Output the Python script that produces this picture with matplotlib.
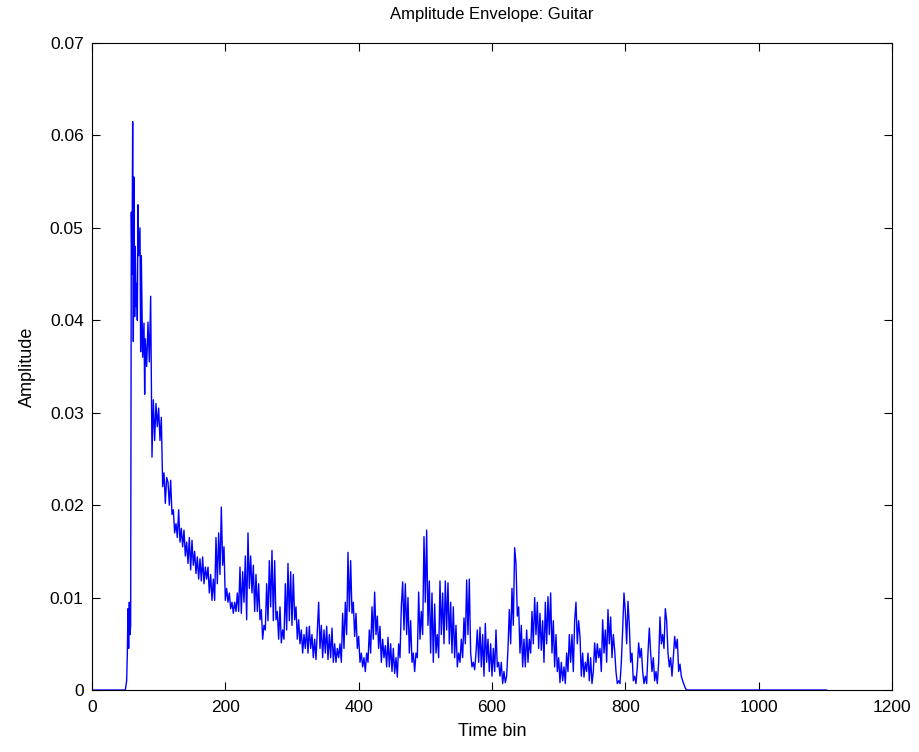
import numpy as np
import matplotlib.pyplot as plt
from matplotlib.ticker import FuncFormatter

# attack part, read point by point (bins are irregular here)
attack_bins = [0, 50, 52, 53, 54, 55, 56, 57, 58, 59, 60, 61, 62, 63, 64, 65, 66, 67, 68,
               69, 70, 72, 73, 74, 76, 78, 79, 80, 82, 84, 86, 88]
attack_amp = [0, 0, 0.001, 0.004, 0.0088, 0.0045, 0.0095, 0.006, 0.007, 0.0517, 0.045,
              0.0615, 0.0377, 0.0555, 0.0404, 0.048, 0.0415, 0.044, 0.040, 0.0525, 0.047,
              0.050, 0.0366, 0.047, 0.036, 0.0397, 0.032, 0.038, 0.035, 0.0398, 0.0355, 0.0426]

# decay part, one value every 2 bins from bin 90 to bin 892
body_start = 90
body_step = 2
body_amp = [
    0.0252, 0.0314, 0.027, 0.031, 0.0285, 0.0305, 0.027, 0.0295, 0.022, 0.0235,
    0.0202, 0.023, 0.0225, 0.020, 0.0227, 0.019, 0.0195, 0.017, 0.018, 0.0165,
    0.0195, 0.016, 0.0175, 0.0155, 0.0173, 0.0145, 0.016, 0.0137, 0.0165, 0.013,
    0.0162, 0.0135, 0.015, 0.0126, 0.0144, 0.012, 0.0142, 0.0118, 0.0144, 0.0115,
    0.0133, 0.012, 0.0133, 0.0105, 0.0125, 0.0097, 0.012, 0.0097, 0.0165, 0.0115,
    0.017, 0.0125, 0.0198, 0.0135, 0.0155, 0.0097, 0.011, 0.0095, 0.0105, 0.0088,
    0.0095, 0.0083, 0.0095, 0.0085, 0.0105, 0.0085, 0.0133, 0.0083, 0.0128, 0.0095,
    0.0145, 0.0076, 0.017, 0.011, 0.0145, 0.0105, 0.0135, 0.0085, 0.0125, 0.0085,
    0.0115, 0.0076, 0.0087, 0.0055, 0.007, 0.0065, 0.0115, 0.0075, 0.014, 0.009,
    0.0151, 0.0075, 0.014, 0.0076, 0.0085, 0.0055, 0.009, 0.0051, 0.0065, 0.0055,
    0.0115, 0.0065, 0.0137, 0.0075, 0.0128, 0.007, 0.0125, 0.0076, 0.009, 0.0055,
    0.0076, 0.005, 0.0065, 0.004, 0.006, 0.0045, 0.0068, 0.004, 0.0069, 0.0045,
    0.006, 0.0035, 0.0055, 0.0033, 0.0065, 0.0095, 0.0045, 0.007, 0.0035, 0.0065,
    0.004, 0.0069, 0.0033, 0.006, 0.0035, 0.0067, 0.003, 0.005, 0.003, 0.0045,
    0.0035, 0.005, 0.003, 0.0083, 0.0045, 0.0095, 0.006, 0.0149, 0.0085, 0.014,
    0.0083, 0.0095, 0.0058, 0.0083, 0.0045, 0.0058, 0.003, 0.004, 0.0025, 0.0035,
    0.002, 0.004, 0.003, 0.0065, 0.004, 0.009, 0.0055, 0.0106, 0.006, 0.008,
    0.0045, 0.0069, 0.003, 0.0055, 0.0035, 0.0048, 0.0025, 0.0057, 0.0025, 0.005,
    0.002, 0.0045, 0.0018, 0.0035, 0.0014, 0.005, 0.0035, 0.009, 0.0117, 0.0065,
    0.0115, 0.006, 0.01, 0.004, 0.0075, 0.003, 0.004, 0.002, 0.004, 0.0035,
    0.0106, 0.0055, 0.0085, 0.006, 0.0166, 0.0095, 0.0173, 0.007, 0.0118, 0.004,
    0.0105, 0.003, 0.0093, 0.004, 0.006, 0.0035, 0.0118, 0.006, 0.0105, 0.005,
    0.0118, 0.0065, 0.0116, 0.005, 0.0095, 0.004, 0.009, 0.0035, 0.007, 0.0025,
    0.004, 0.003, 0.0055, 0.0035, 0.0078, 0.005, 0.0119, 0.006, 0.012, 0.004,
    0.0025, 0.003, 0.0022, 0.004, 0.0065, 0.003, 0.0068, 0.0025, 0.006, 0.0015,
    0.0072, 0.003, 0.0055, 0.002, 0.005, 0.0015, 0.0045, 0.002, 0.0065, 0.0025,
    0.003, 0.0015, 0.003, 0.0007, 0.002, 0.0008, 0.0015, 0.0045, 0.0087, 0.005,
    0.011, 0.007, 0.0154, 0.0137, 0.008, 0.009, 0.004, 0.007, 0.0025, 0.0055,
    0.0025, 0.0065, 0.003, 0.0055, 0.004, 0.0085, 0.005, 0.01, 0.006, 0.0095,
    0.0045, 0.0083, 0.0043, 0.0075, 0.003, 0.0095, 0.005, 0.0101, 0.006, 0.0105,
    0.004, 0.0075, 0.0025, 0.006, 0.002, 0.0035, 0.0008, 0.003, 0.001, 0.0025,
    0.0007, 0.004, 0.002, 0.006, 0.003, 0.006, 0.002, 0.0075, 0.0095, 0.005,
    0.0075, 0.0058, 0.0015, 0.004, 0.0014, 0.003, 0.002, 0.004, 0.001, 0.0035,
    0.0007, 0.002, 0.0051, 0.003, 0.005, 0.0035, 0.0045, 0.002, 0.0076, 0.004,
    0.0065, 0.003, 0.0087, 0.005, 0.0079, 0.0035, 0.006, 0.0043, 0.002, 0.0007,
    0.001, 0.0007, 0.003, 0.0065, 0.0105, 0.0085, 0.005, 0.0096, 0.007, 0.003,
    0.004, 0.001, 0.0015, 0.0007, 0.0025, 0.0051, 0.0035, 0.0045, 0.002, 0.0007,
    0.0015, 0.0007, 0.004, 0.0067, 0.004, 0.002, 0.0035, 0.001, 0.002, 0.0007,
    0.003, 0.0079, 0.005, 0.006, 0.0045, 0.0088, 0.0075, 0.004, 0.0025, 0.0035,
    0.0015, 0.0035, 0.0058, 0.0045, 0.0055, 0.002, 0.0028, 0.0015, 0.001, 0.0006,
    0.0002, 0.0,
]

last_bin = 1102  # silent tail after the note dies out

body_bins = body_start + body_step * np.arange(len(body_amp))
bins = np.concatenate([attack_bins, body_bins, [last_bin]])
amp = np.concatenate([attack_amp, body_amp, [0.0]])

plt.rcParams["font.family"] = ["Liberation Sans", "DejaVu Sans"]

fig = plt.figure(figsize=(9.19, 7.52), dpi=100)
ax = fig.add_axes([0.1001, 0.0824, 0.8705, 0.8604])
ax.plot(bins, amp, color="#0000ff", linewidth=1.0)

ax.set_xlim(0, 1200)
ax.set_ylim(0, 0.07)
ax.set_xticks(np.arange(0, 1201, 200))
ax.set_yticks(np.arange(0, 0.0701, 0.01))
ax.yaxis.set_major_formatter(FuncFormatter(lambda v, p: "%g" % round(v, 3)))
ax.tick_params(direction="in", top=True, right=True, length=6, width=0.8, labelsize=12.5)
ax.tick_params(axis="x", pad=7)
ax.tick_params(axis="y", pad=6)
for s in ax.spines.values():
    s.set_linewidth(0.8)

ax.set_title("Amplitude Envelope: Guitar", fontsize=12, pad=17)
ax.set_xlabel("Time bin", fontsize=13, labelpad=6)
ax.set_ylabel("Amplitude", fontsize=13, labelpad=10)

fig.savefig("out.png", dpi=100)
